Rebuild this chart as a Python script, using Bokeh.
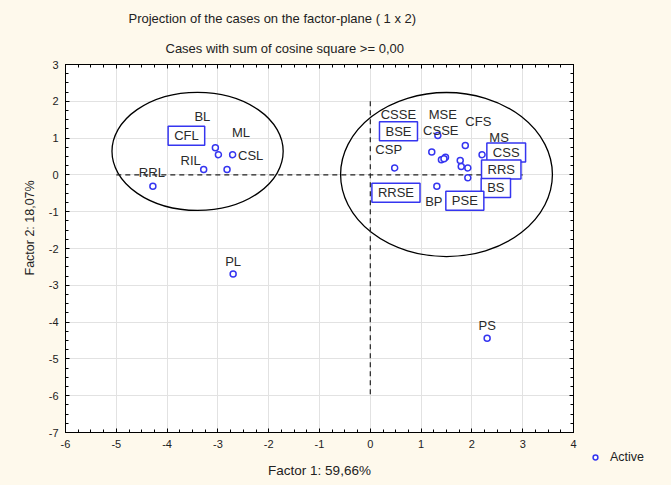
from bokeh.plotting import figure
from bokeh.layouts import row
from bokeh.models import (Range1d, LinearAxis, ColumnDataSource, Legend, Title,
                          LegendItem, SingleIntervalTicker, PrintfTickFormatter)
from bokeh.embed import file_html
from bokeh.resources import INLINE
from bokeh.core.properties import value

# ---------------- data ----------------
case_names = ["BL", "CFL", "CSL", "ML", "RIL", "RRL", "PL", "PS",
              "CSP", "MSE", "CSSE", "CSSE", "BSE", "CFS", "MS", "CSS",
              "RRS", "BS", "PSE", "BP", "RRSE"]
factor1 = [-3.05, -2.99, -2.71, -2.82, -3.28, -4.28, -2.70, 2.30,
           0.48, 1.33, 1.21, 1.40, 1.48, 1.87, 2.20, 1.77,
           1.79, 1.92, 1.92, 1.31, 1.45]
factor2 = [0.74, 0.55, 0.55, 0.15, 0.15, -0.31, -2.69, -4.44,
           0.19, 1.07, 0.62, 0.41, 0.48, 0.80, 0.55, 0.39,
           0.23, 0.19, -0.08, -0.31, 0.44]
boxed = [False, True, False, False, False, False, False, False,
         False, False, False, False, True, False, False, True,
         True, True, True, False, True]

# group ellipses (center x, center y, width, height) in factor units
group_cx = [-3.40, 1.50]
group_cy = [0.64, 0.01]
group_w = [3.37, 4.17]
group_h = [3.21, 4.46]

# dashed reference lines
ref_x0 = [-5, 0]
ref_y0 = [0, 2]
ref_x1 = [3, 0]
ref_y1 = [0, -6]

x_limits = (-6, 4)
y_limits = (-7, 3)

title_1 = "Projection of the cases on the factor-plane ( 1 x  2)"
title_2 = "Cases with sum of cosine square >=  0,00"
x_label = "Factor 1: 59,66%"
y_label = "Factor 2: 18,07%"
legend_label = "Active"

# label placement (pixel offsets from the point)
label_dx = [-13, -32, 18, 14, -13, -1, 0, 0,
            -6, 5, 9, -43, -47, 13, 17, 46,
            40, 28, -3, -3, -48]
label_dy = [-31, -19, 1, -37, -9, -14, -12, -13,
            -18, -21, -22, -45, -26, -24, -17, -8,
            3, 20, 23, 15, 34]

FONT = "Liberation Sans"
CREAM = "#FEF9EC"
BLUE = "#3535f0"
TXT = "#222222"

p = figure(width=585, height=485, output_backend="svg", toolbar_location=None,
           x_range=Range1d(*x_limits), y_range=Range1d(*y_limits),
           min_border_left=65, min_border_right=12, min_border_top=64,
           min_border_bottom=53)
p.frame_align = False
p.border_fill_color = CREAM
p.background_fill_color = "white"
p.outline_line_color = "black"
p.outline_line_width = 1

xt = SingleIntervalTicker(interval=1, num_minor_ticks=4)
yt = SingleIntervalTicker(interval=1, num_minor_ticks=4)
p.xaxis.ticker = xt
p.yaxis.ticker = yt
p.xgrid.ticker = xt
p.ygrid.ticker = yt
p.grid.grid_line_color = "#e2e2e2"
p.grid.grid_line_width = 1

for ax in [p.xaxis[0], p.yaxis[0]]:
    ax.formatter = PrintfTickFormatter(format="%d")
    ax.axis_line_color = "black"
    ax.major_tick_in = 4
    ax.major_tick_out = 0
    ax.minor_tick_in = 3
    ax.minor_tick_out = 0
    ax.major_tick_line_color = "black"
    ax.minor_tick_line_color = "black"
    ax.major_label_text_font = FONT
    ax.major_label_text_font_size = "11px"
    ax.major_label_text_color = TXT
    ax.major_label_standoff = 7

p.xaxis.axis_label = x_label
p.xaxis.axis_label_text_font = FONT
p.xaxis.axis_label_text_font_size = "13.5px"
p.xaxis.axis_label_text_font_style = "normal"
p.xaxis.axis_label_text_color = TXT
p.xaxis.axis_label_standoff = 12

for loc, tk in [("above", xt), ("right", yt)]:
    ax = LinearAxis(ticker=tk)
    ax.major_tick_in = 4
    ax.major_tick_out = 0
    ax.minor_tick_in = 3
    ax.minor_tick_out = 0
    ax.major_label_text_color = None
    ax.major_label_text_font_size = "1px"
    ax.major_label_standoff = 0
    ax.axis_line_color = "black"
    p.add_layout(ax, loc)

# titles (second line nearest the frame)
p.add_layout(Title(text=title_2, text_font=FONT, text_font_size="13px",
                   text_font_style="normal", text_color=TXT, align="left",
                   offset=100, standoff=18), "above")
p.add_layout(Title(text=title_1, text_font=FONT, text_font_size="13px",
                   text_font_style="normal", text_color=TXT, align="left",
                   offset=63, standoff=7), "above")
p.add_layout(Title(text=y_label, text_font=FONT, text_font_size="12.5px",
                   text_font_style="normal", text_color=TXT, align="left",
                   offset=157, standoff=18), "left")

# ellipses
p.ellipse(x=group_cx, y=group_cy, width=group_w, height=group_h,
          fill_color=None, line_color="black", line_width=1.3)

# dashed reference lines
p.segment(x0=ref_x0, y0=ref_y0, x1=ref_x1, y1=ref_y1, line_color=TXT,
          line_width=1.2, line_dash="5 4")

src = ColumnDataSource(dict(x=factor1, y=factor2, name=case_names))
marker_style = dict(size=6, marker="circle", fill_color="white",
                    line_color=BLUE, line_width=1.5)
pts = p.scatter(x="x", y="y", source=src, **marker_style)

plain_idx = [i for i, b in enumerate(boxed) if not b]
box_idx = [i for i, b in enumerate(boxed) if b]

def sub(idx):
    return ColumnDataSource(dict(x=[factor1[i] for i in idx],
                                 y=[factor2[i] for i in idx],
                                 name=[case_names[i] for i in idx],
                                 dx=[label_dx[i] for i in idx],
                                 dy=[label_dy[i] for i in idx]))

p.text(x="x", y="y", text="name", source=sub(plain_idx), x_offset="dx", y_offset="dy",
       text_font=value(FONT), text_font_size="13px", text_color="#2a2a2a",
       text_align="center", text_baseline="middle")
p.text(x="x", y="y", text="name", source=sub(box_idx), x_offset="dx", y_offset="dy",
       text_font=value(FONT), text_font_size="13px", text_color="#2a2a2a",
       text_align="center", text_baseline="middle",
       padding=[6, 2], border_line_color=BLUE, border_line_width=1.5,
       background_fill_color="white")

# legend panel (separate small figure on the right); its key renderer holds
# the first case, which lies outside this panel's own range and is not drawn
lg = figure(width=86, height=485, output_backend="svg", toolbar_location=None,
            x_range=Range1d(0, 1), y_range=Range1d(0, 1),
            min_border=0, x_axis_type=None, y_axis_type=None)
lg.frame_align = False
lg.border_fill_color = CREAM
lg.background_fill_color = CREAM
lg.outline_line_color = None
lg.grid.visible = False
key_src = ColumnDataSource(dict(x=factor1[:1], y=factor2[:1]))
key = lg.scatter(x="x", y="y", source=key_src, **marker_style)
legend = Legend(items=[LegendItem(label=legend_label, renderers=[key])],
                location=(4, 21), padding=0, margin=0, spacing=0,
                glyph_width=12, glyph_height=14, label_standoff=9,
                border_line_color=None, background_fill_alpha=0,
                label_text_font=FONT, label_text_font_size="12.5px",
                label_text_color=TXT)
lg.add_layout(legend)

layout = row(p, lg, spacing=0)
layout.styles = {"background-color": CREAM}
open("out.html", "w").write(file_html(layout, INLINE))
